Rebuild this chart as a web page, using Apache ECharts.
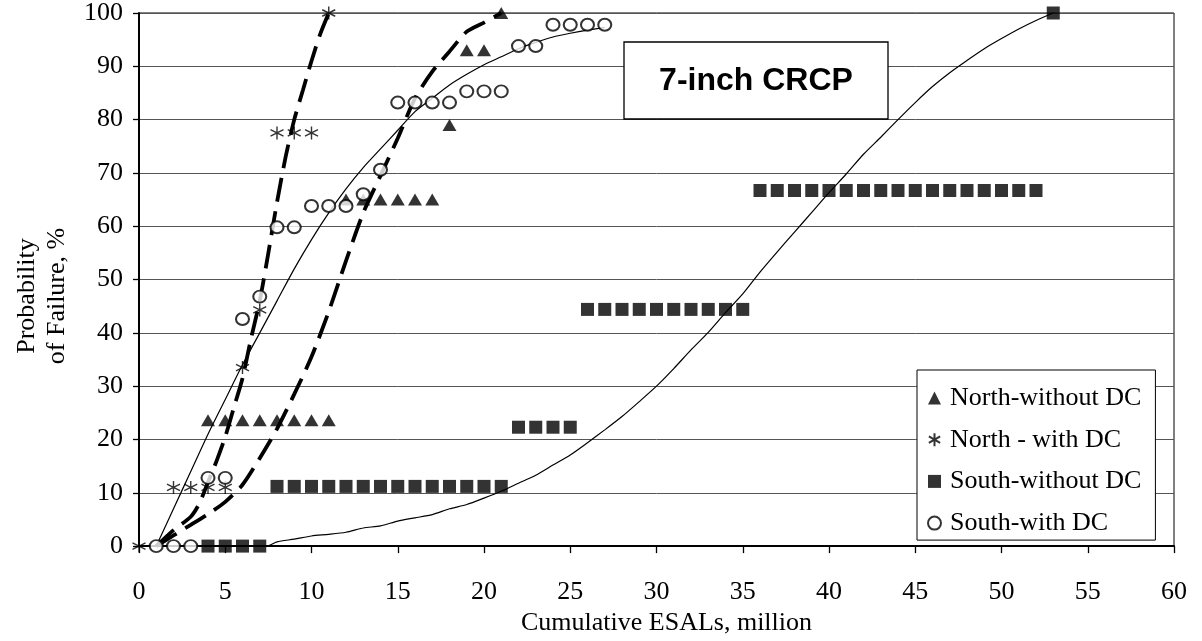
<!DOCTYPE html>
<html><head><meta charset="utf-8">
<script src="https://cdn.jsdelivr.net/npm/echarts@6/dist/echarts.min.js"></script>
<style>html,body{margin:0;padding:0;background:#fff}#c{width:1202px;height:641px}</style>
</head><body><div id="c"></div>
<script>
// ---- Data ----
const seriesNames = ['North-without DC', 'North - with DC', 'South-without DC', 'South-with DC'];

const northWithoutX = [4, 5, 6, 7, 8, 9, 10, 11, 12, 13, 14, 15, 16, 17, 18, 19, 20, 21];
const northWithoutY = [23.6, 23.6, 23.6, 23.6, 23.6, 23.6, 23.6, 23.6, 65, 65, 65, 65, 65, 65, 79, 93, 93, 100];

const northWithX = [0, 2, 3, 4, 5, 6, 7, 8, 9, 10, 11];
const northWithY = [0, 11, 11, 11, 11, 33.5, 44.3, 77.5, 77.5, 77.5, 100];

const southWithoutX = [4, 5, 6, 7,
  8, 9, 10, 11, 12, 13, 14, 15, 16, 17, 18, 19, 20, 21,
  22, 23, 24, 25,
  26, 27, 28, 29, 30, 31, 32, 33, 34, 35,
  36, 37, 38, 39, 40, 41, 42, 43, 44, 45, 46, 47, 48, 49, 50, 51, 52,
  53];
const southWithoutY = [0, 0, 0, 0,
  11.2, 11.2, 11.2, 11.2, 11.2, 11.2, 11.2, 11.2, 11.2, 11.2, 11.2, 11.2, 11.2, 11.2,
  22.3, 22.3, 22.3, 22.3,
  44.4, 44.4, 44.4, 44.4, 44.4, 44.4, 44.4, 44.4, 44.4, 44.4,
  66.7, 66.7, 66.7, 66.7, 66.7, 66.7, 66.7, 66.7, 66.7, 66.7, 66.7, 66.7, 66.7, 66.7, 66.7, 66.7, 66.7,
  100];

const southWithX = [1, 2, 3, 4, 5, 6, 7, 8, 9, 10, 11, 12, 13, 14, 15, 16, 17, 18, 19, 20, 21, 22, 23, 24, 25, 26, 27];
const southWithY = [0, 0, 0, 12.8, 12.8, 42.6, 46.8, 59.8, 59.8, 63.8, 63.8, 63.8, 66, 70.6, 83.2, 83.2, 83.2, 83.2, 85.3, 85.3, 85.3, 93.8, 93.8, 97.8, 97.8, 97.8, 97.8];

// fitted curves
const fitNorthWithX = [1, 2, 3, 3.5, 4, 4.5, 5, 5.5, 6, 6.5, 7, 7.5, 8, 8.5, 9, 9.5, 10, 10.5, 11];
const fitNorthWithY = [0, 3, 5.5, 8, 12, 16, 20.5, 26, 31.5, 39, 46, 55, 64.5, 73, 80, 85.5, 91, 96, 100];

const fitNorthWithoutX = [1, 2, 3, 4, 5, 6, 7, 8, 9, 10, 11, 12, 13, 14, 15, 16, 17, 18, 19, 20, 21];
const fitNorthWithoutY = [0, 2, 4, 6, 8.3, 11.5, 16.5, 22, 28.5, 35.5, 44, 53.5, 62.5, 69.5, 76.5, 84, 89, 92.8, 96.5, 98.2, 100];

const fitSouthWithoutX = [3, 7.4, 8, 9, 10, 11, 12, 13, 14, 15, 16, 17, 18, 19, 20, 21, 22, 23, 24, 25, 26, 27, 28, 29, 30, 31, 32, 33, 34, 35, 36, 37, 38, 39, 40, 41, 42, 43, 44, 45, 46, 47, 48, 49, 50, 51, 52, 53];
const fitSouthWithoutY = [0, 0, 0.8, 1.3, 1.9, 2.2, 2.6, 3.4, 3.8, 4.7, 5.3, 5.9, 7.0, 7.8, 9.0, 10.3, 11.8, 13.3, 15.2, 17.1, 19.4, 21.8, 24.3, 27.1, 30, 33.3, 36.8, 40.1, 43.8, 47.3, 51.4, 55.2, 58.9, 62.6, 66.3, 69.8, 73.5, 76.7, 80, 83.2, 86.2, 88.8, 91.1, 93.3, 95.2, 97, 98.6, 100];

const fitSouthWithX = [1, 2, 3, 4, 5, 6, 7, 8, 9, 10, 11, 12, 13, 14, 15, 16, 17, 18, 19, 20, 21, 22, 23, 24, 25, 26, 27];
const fitSouthWithY = [0, 7, 14, 21, 27.5, 34, 40, 46, 52, 57.5, 62.5, 67, 71, 74.5, 78, 81.5, 84, 86.5, 88.5, 90.3, 91.8, 93.3, 94.5, 95.5, 96.2, 96.8, 97.3];

const xAxisMin = 0, xAxisMax = 60, xAxisStep = 5;
const yAxisMin = 0, yAxisMax = 100, yAxisStep = 10;
const xAxisTitle = 'Cumulative ESALs, million';
const yAxisTitle = 'Probability\nof Failure, %';
const boxTitle = '7-inch CRCP';

// ---- helpers ----
const zip = (xs, ys) => xs.map((x, i) => [x, ys[i]]);
const SERIF = 'Liberation Serif';
const FS = 26;
const ASTERISK = 'path://M0,-1L0,1M-0.866,-0.5L0.866,0.5M-0.866,0.5L0.866,-0.5';

const chart = echarts.init(document.getElementById('c'), null, {renderer: 'canvas'});

function fitLine(name, xs, ys, dashed) {
  return {
    name: name, type: 'line', data: zip(xs, ys), showSymbol: false, symbol: 'none',
    smooth: 0.25, z: 2, silent: true,
    lineStyle: dashed ? {color: '#000', width: 3.8, type: [24, 10], cap: 'butt'}
                      : {color: '#000', width: 1.2, type: 'solid'}
  };
}

const option = {
  animation: false,
  backgroundColor: '#fff',
  grid: {left: 139, right: 28, top: 13, bottom: 89, show: true, borderColor: '#000', borderWidth: 1, backgroundColor: 'transparent'},
  xAxis: {
    type: 'value', min: xAxisMin, max: xAxisMax, interval: xAxisStep,
    axisLine: {show: true, onZero: false, lineStyle: {color: '#000', width: 2}},
    axisTick: {show: true, inside: false, length: 7, lineStyle: {color: '#000', width: 1.3}},
    axisLabel: {color: '#000', fontFamily: SERIF, fontSize: FS, margin: 33},
    splitLine: {show: false},
    name: xAxisTitle, nameLocation: 'middle', nameGap: 60,
    nameTextStyle: {color: '#000', fontFamily: SERIF, fontSize: FS, padding: [0, 0, 0, 20]}
  },
  yAxis: {
    type: 'value', min: yAxisMin, max: yAxisMax, interval: yAxisStep,
    axisLine: {show: true, onZero: false, lineStyle: {color: '#000', width: 2}},
    axisTick: {show: true, inside: false, length: 6, lineStyle: {color: '#000', width: 1.3}},
    axisLabel: {color: '#000', fontFamily: SERIF, fontSize: FS, margin: 16},
    splitLine: {show: true, lineStyle: {color: '#555', width: 1}}
  },
  legend: {
    data: seriesNames, orient: 'vertical', left: 917, top: 370,
    backgroundColor: '#fff', borderColor: '#000', borderWidth: 1, borderRadius: 0,
    padding: [13, 14, 2, 10], itemWidth: 13, itemHeight: 13, itemGap: 11.7,
    textStyle: {color: '#000', fontFamily: SERIF, fontSize: FS, lineHeight: 30, padding: [0, 0, 0, 4]},
    selectedMode: false, z: 10
  },
  graphic: [
    {type: 'rect', z: 100, shape: {x: 624, y: 42, width: 264, height: 77},
     style: {fill: '#fff', stroke: '#000', lineWidth: 1.3}},
    {type: 'text', z: 101, x: 756, y: 81,
     style: {text: boxTitle, font: 'bold 32px "Liberation Sans"', fill: '#000', align: 'center', verticalAlign: 'middle'}},
    {type: 'text', z: 101, x: 42, y: 296, rotation: Math.PI / 2,
     style: {text: yAxisTitle, font: FS + 'px "Liberation Serif"', fill: '#000', align: 'center', verticalAlign: 'middle', lineHeight: 30}}
  ],
  series: [
    fitLine('fitNorthWith', fitNorthWithX, fitNorthWithY, true),
    fitLine('fitNorthWithout', fitNorthWithoutX, fitNorthWithoutY, true),
    fitLine('fitSouthWithout', fitSouthWithoutX, fitSouthWithoutY, false),
    fitLine('fitSouthWith', fitSouthWithX, fitSouthWithY, false),
    {name: seriesNames[0], type: 'scatter', z: 3, data: zip(northWithoutX, northWithoutY),
     symbol: 'triangle', symbolSize: [14, 12], itemStyle: {color: '#000'}},
    {name: seriesNames[1], type: 'scatter', z: 3, data: zip(northWithX, northWithY),
     symbol: ASTERISK, symbolSize: 13, itemStyle: {color: 'rgba(0,0,0,0)', borderColor: '#000', borderWidth: 1.4}},
    {name: seriesNames[2], type: 'scatter', z: 3, data: zip(southWithoutX, southWithoutY),
     symbol: 'rect', symbolSize: 13, itemStyle: {color: '#000'}},
    {name: seriesNames[3], type: 'scatter', z: 4, data: zip(southWithX, southWithY),
     symbol: 'emptyCircle', symbolSize: [13, 12], itemStyle: {color: '#000', borderColor: '#000', borderWidth: 1.3}}
  ]
};
chart.setOption(option);
</script>
</body></html>
